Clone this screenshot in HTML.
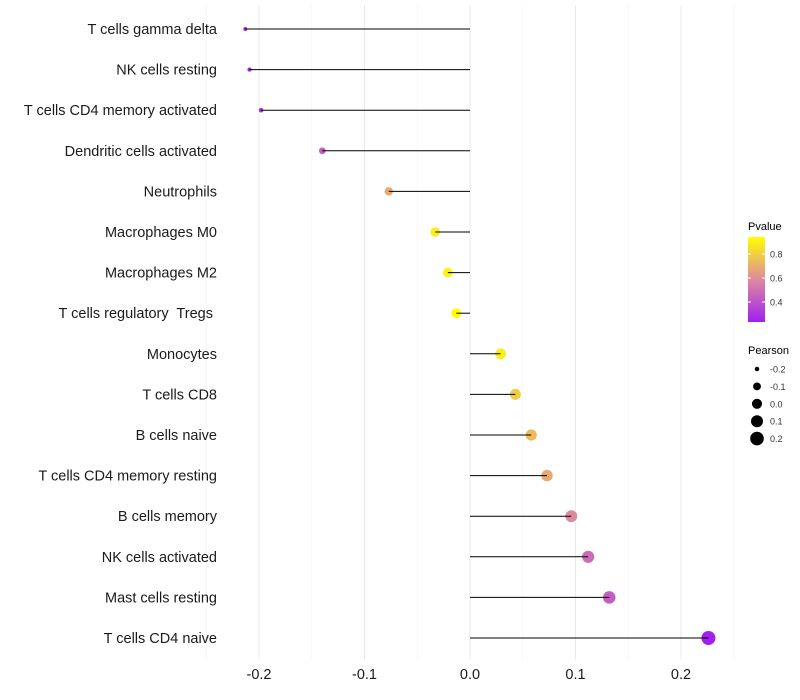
<!DOCTYPE html>
<html><head><meta charset="utf-8"><style>
body{margin:0;background:#fff}
svg{display:block;font-family:"Liberation Sans",sans-serif}
</style></head><body>
<svg id="chart" width="800" height="700">
<defs><linearGradient id="pg" x1="0" y1="1" x2="0" y2="0">
<stop offset="0" stop-color="#a020f0"/><stop offset="0.5" stop-color="#dd8aa0"/><stop offset="1" stop-color="#ffff00"/>
</linearGradient></defs>
<g id="grid"></g>
<g id="marks"></g>
<g id="axes"></g>
<g id="legend"></g>
</svg>
<script>
const categories=["T cells gamma delta","NK cells resting","T cells CD4 memory activated","Dendritic cells activated","Neutrophils","Macrophages M0","Macrophages M2","T cells regulatory  Tregs ","Monocytes","T cells CD8","B cells naive","T cells CD4 memory resting","B cells memory","NK cells activated","Mast cells resting","T cells CD4 naive"];
const pearson=[-0.213,-0.209,-0.198,-0.140,-0.077,-0.033,-0.021,-0.013,0.029,0.043,0.058,0.073,0.096,0.112,0.132,0.226];
const pvalue=[0.25,0.27,0.3,0.45,0.7,0.9,0.92,0.95,0.9,0.8,0.75,0.7,0.6,0.5,0.45,0.25];
const xTicks=[-0.2,-0.1,0.0,0.1,0.2];
const xTickLabels=["-0.2","-0.1","0.0","0.1","0.2"];
const pTicks=[0.4,0.6,0.8];
const sizeTicks=[-0.2,-0.1,0.0,0.1,0.2];
const NS="http://www.w3.org/2000/svg";
function mk(p,t,a){const e=document.createElementNS(NS,t);for(const k in a)e.setAttribute(k,a[k]);p.appendChild(e);return e;}
const xs=v=>470+v*1055;
const ys=i=>29+i*40.6;
const rs=v=>Math.sqrt(Math.max(1,25.7+103*v));
function lerp(a,b,t){return a.map((x,i)=>Math.round(x+(b[i]-x)*t));}
function col(p){const t=Math.max(0,Math.min(1,(p-0.25)/0.7));const A=[160,32,240],M=[221,138,160],B=[255,255,0];
 const c=t<0.5?lerp(A,M,t*2):lerp(M,B,(t-0.5)*2);return `rgb(${c})`;}
const grid=document.getElementById('grid'),marks=document.getElementById('marks'),axes=document.getElementById('axes'),leg=document.getElementById('legend');
for(let v=-0.25;v<=0.251;v+=0.05){
 const major=Math.abs(Math.round(v*100)%10)===0;
 const l=mk(grid,'line',{x1:xs(v),x2:xs(v),y1:5,y2:660,stroke:major?'#ebebeb':'#f4f4f4','stroke-width':major?1:0.6});
 
}
categories.forEach((c,i)=>{
 const y=ys(i);
 const t=mk(axes,'text',{x:217,y:y+5,'text-anchor':'end','font-size':14.5,fill:'#1a1a1a'});t.textContent=c;
 t.style.whiteSpace='pre';
 
 const d=mk(marks,'circle',{cx:xs(pearson[i]),cy:y,r:rs(pearson[i]),fill:col(pvalue[i])});
 
 const s=mk(marks,'line',{x1:xs(0),x2:xs(pearson[i]),y1:y,y2:y,stroke:'#000','stroke-width':1});
 
});
xTicks.forEach((v,i)=>{
 const t=mk(axes,'text',{x:xs(v),y:679,'text-anchor':'middle','font-size':14.5,fill:'#1a1a1a'});t.textContent=xTickLabels[i];
 
});
let t=mk(leg,'text',{x:748,y:230,'font-size':11,fill:'#000'});t.textContent='Pvalue';

const bar=mk(leg,'rect',{x:748,y:237,width:17,height:85,fill:'url(#pg)'});

const py=p=>302-(p-0.4)*120;
pTicks.forEach(p=>{
 mk(leg,'line',{x1:748,x2:751,y1:py(p),y2:py(p),stroke:'#fff'});mk(leg,'line',{x1:762,x2:765,y1:py(p),y2:py(p),stroke:'#fff'});
 const tt=mk(leg,'text',{x:770,y:py(p)+3.5,'font-size':9,fill:'#333'});tt.textContent=p.toFixed(1);
 
});
t=mk(leg,'text',{x:748,y:354,'font-size':11,fill:'#000'});t.textContent='Pearson';

sizeTicks.forEach((v,i)=>{
 const y=369+i*17.4;
 const c=mk(leg,'circle',{cx:757,cy:y,r:rs(v),fill:'#000'});
 
 const tt=mk(leg,'text',{x:770,y:y+3.5,'font-size':9,fill:'#333'});tt.textContent=v.toFixed(1);
 
});
</script>
</body></html>
